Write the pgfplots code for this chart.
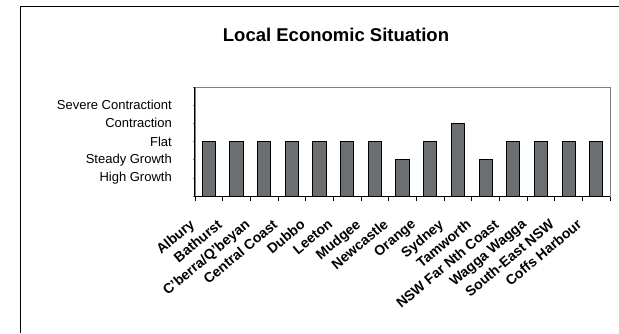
\documentclass[border=0pt]{standalone}
\usepackage{pgfplots}
\pgfplotsset{compat=1.18}
\usepackage{fontspec}
\setmainfont{Liberation Sans}
\definecolor{barfill}{RGB}{108,111,114}
\definecolor{framegray}{RGB}{128,128,128}
\begin{document}
\begin{tikzpicture}
\useasboundingbox (0pt,0pt) rectangle (619pt,333pt);
\draw[line width=1pt] (20pt,0pt) -- (20pt,326pt) -- (619pt,326pt);
\node[font=\bfseries\fontsize{18.5}{20}\selectfont] at (336pt,298pt) {Local Economic Situation};
\begin{axis}[
  at={(195pt,137pt)}, anchor=south west,
  scale only axis, width=415pt, height=109pt,
  xmin=-0.5, xmax=14.5, ymin=0, ymax=6,
  ytick={0,...,6},
  yticklabels={,High Growth,Steady Growth,Flat,Contraction,Severe Contractiont,},
  xtick={0,...,14},
  xticklabels={Albury,Bathurst,C'berra/Q'beyan,Central Coast,Dubbo,Leeton,Mudgee,Newcastle,Orange,Sydney,Tamworth,NSW Far Nth Coast,Wagga Wagga,South-East NSW,Coffs Harbour},
  minor xtick={-0.5,0.5,...,14.5},
  tick align=outside, tick pos=left,
  major tick length=2pt, minor tick length=5pt,
  major x tick style={draw=none},
  minor x tick style={draw=black, line width=0.8pt},
  y tick style={draw=framegray, line width=0.6pt},
  axis line style={draw=framegray, line width=0.8pt},
  xticklabel style={font=\bfseries\fontsize{14}{14}\selectfont, inner sep=0pt, xshift=-20pt, yshift=-20pt, rotate=40, anchor=north east},
  yticklabel style={font=\fontsize{13}{13}\selectfont, inner sep=0pt, xshift=-21pt},
  clip=false,
]
\addplot[ybar, bar width=0.47, fill=barfill, draw=black, line width=1pt] coordinates {
(0,3) (1,3) (2,3) (3,3) (4,3) (5,3) (6,3) (7,2) (8,3) (9,4) (10,2) (11,3) (12,3) (13,3) (14,3)
};
\draw[black, line width=1pt] (rel axis cs:0,1) -- (rel axis cs:0,0) -- (rel axis cs:1,0);
\end{axis}
\end{tikzpicture}
\end{document}
